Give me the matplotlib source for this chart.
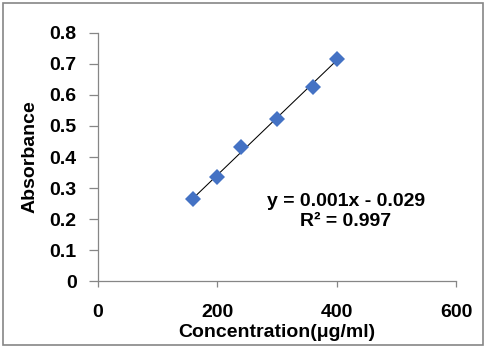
import matplotlib
matplotlib.use("Agg")
import matplotlib.pyplot as plt
import numpy as np
from matplotlib.patches import Rectangle

concentration = [160, 200, 240, 300, 360, 400]
absorbance = [0.264, 0.335, 0.431, 0.523, 0.626, 0.716]
x_ticks = [0, 200, 400, 600]
y_ticks = [0, 0.1, 0.2, 0.3, 0.4, 0.5, 0.6, 0.7, 0.8]
equation_text = "y = 0.001x - 0.029"
r2_text = "R² = 0.997"

plt.rcParams['font.family'] = ['Liberation Sans', 'DejaVu Sans']
plt.rcParams['font.weight'] = 'bold'

FS = 14

fig = plt.figure(figsize=(4.86, 3.47), dpi=100)
ax_l, ax_r, ax_t, ax_b = 97.5, 456, 32.7, 281.3
ax = fig.add_axes([ax_l/486, 1-ax_b/347, (ax_r-ax_l)/486, (ax_b-ax_t)/347])

gray = '#868686'
coef = np.polyfit(concentration, absorbance, 1)
xs = np.array([min(concentration), max(concentration)])
ax.plot(xs, np.polyval(coef, xs), color='black', lw=0.75, zorder=2)
ax.plot(concentration, absorbance, linestyle='none', marker='D', ms=7.8,
        color='#4472C4', markeredgewidth=0, zorder=3)

ax.set_xlim(0, 600)
ax.set_ylim(0, 0.8)
ax.set_xticks(x_ticks)
ax.set_yticks(y_ticks)
ax.set_xticklabels([str(v) for v in x_ticks], fontsize=FS, fontweight='bold')
ax.set_yticklabels(['0' if v == 0 else f"{v:.1f}" for v in y_ticks], fontsize=FS, fontweight='bold')

for s in ['top', 'right']:
    ax.spines[s].set_visible(False)
for s in ['left', 'bottom']:
    ax.spines[s].set_color(gray)
    ax.spines[s].set_linewidth(0.9)
ax.tick_params(axis='x', direction='out', length=4, width=0.9, color=gray, pad=12.5)
ax.tick_params(axis='y', direction='out', length=6.5, width=0.9, color=gray, pad=8.5)

ax.set_xlabel("Concentration(μg/ml)", fontsize=FS, fontweight='bold')
ax.set_ylabel("Absorbance", fontsize=FS, fontweight='bold')
ax.xaxis.set_label_coords(0.5, (ax_b-324)/(ax_b-ax_t))
ax.yaxis.set_label_coords((38.4-ax_l)/(ax_r-ax_l), 0.5)

ax.text(346/486, 1-201.7/347, equation_text, transform=fig.transFigure,
        ha='center', va='center', fontsize=FS, fontweight='bold')
ax.text(346/486, 1-221.7/347, r2_text, transform=fig.transFigure,
        ha='center', va='center', fontsize=FS, fontweight='bold')

fig.patches.append(Rectangle((2.5/486, 2.5/347), 480/486, 342/347,
                             transform=fig.transFigure, fill=False,
                             edgecolor=gray, lw=1.2))

fig.savefig("out.png", dpi=100)
